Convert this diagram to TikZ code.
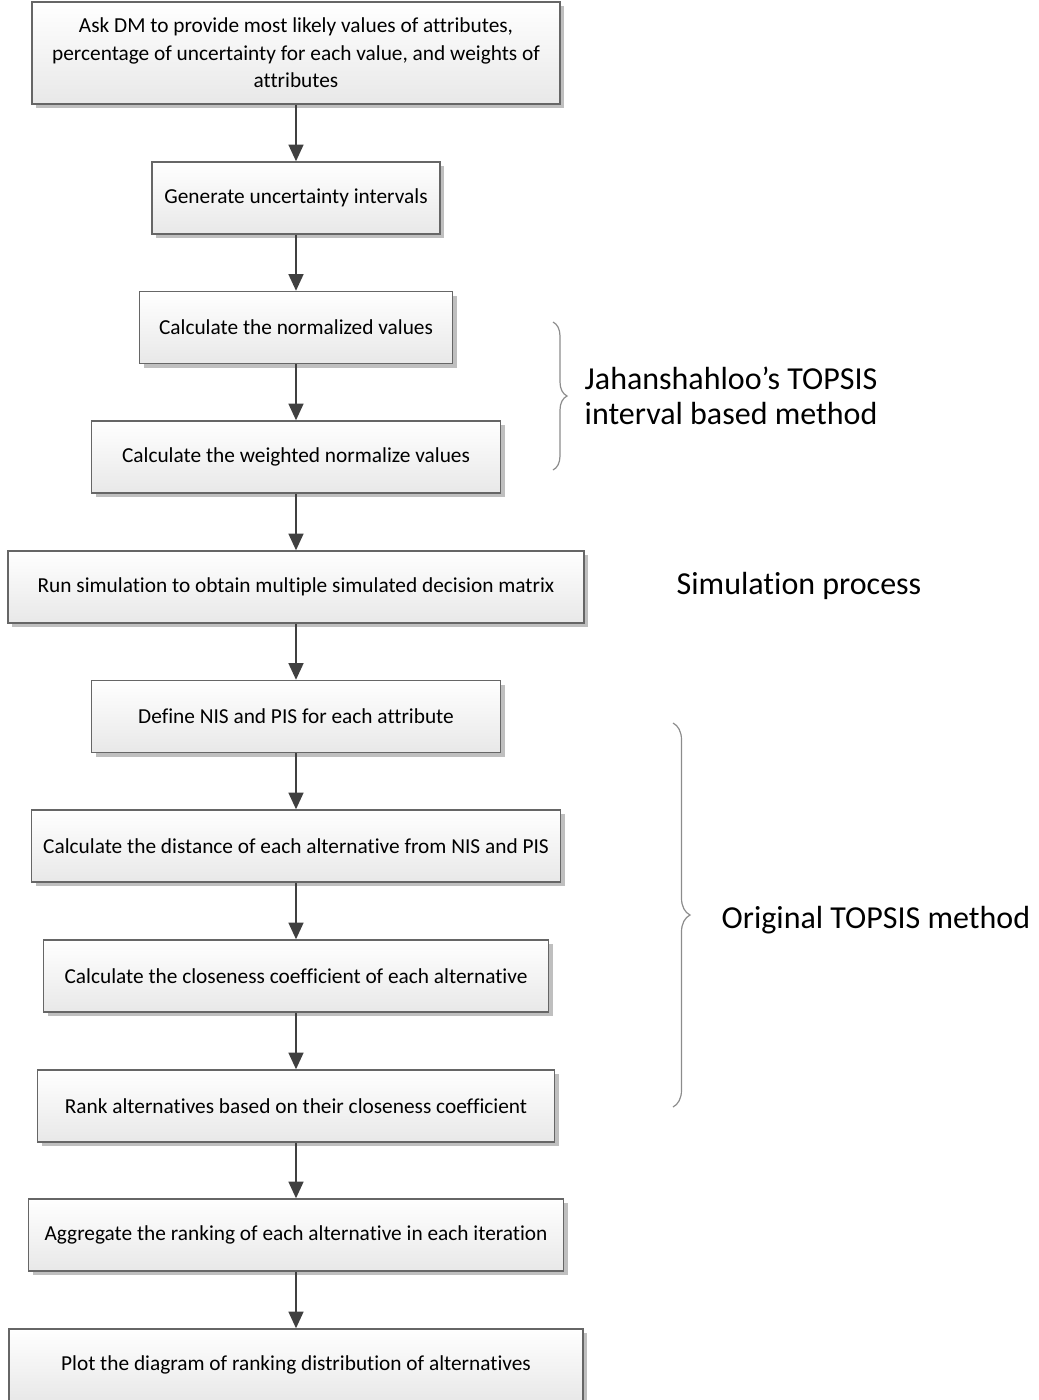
\documentclass[tikz,border=0pt]{standalone}
\usepackage{fontspec}
\setmainfont{Carlito}[Ligatures={NoCommon}]
\usetikzlibrary{arrows.meta,shadows,decorations.pathreplacing}

\newlength{\du}
\setlength{\du}{0.75pt}

\definecolor{boxline}{rgb}{0.400000, 0.400000, 0.400000}
\definecolor{arrowline}{rgb}{0.250000, 0.250000, 0.250000}
\definecolor{braceline}{rgb}{0.550000, 0.550000, 0.550000}

\tikzset{
  stepbox/.style={draw=boxline, line width=1.3\du, top color=white, bottom color=black!9,
    drop shadow={shadow xshift=4\du, shadow yshift=-4\du, fill=black!25, opacity=1},
    minimum height=72\du, inner sep=0pt, align=center,
    font=\fontsize{16}{20.6}\selectfont},
  flowline/.style={draw=arrowline, line width=2.4\du, -{Triangle[length=12.5pt,width=11pt]}},
  bracket/.style={draw=braceline, line width=1.2\du, decorate,
    decoration={brace, amplitude=14\du}},
  sidelabel/.style={anchor=west, align=left, font=\fontsize{24}{26}\selectfont}
}

\begin{document}
\begin{tikzpicture}
\pgftransformxscale{1.000000}
\pgftransformyscale{-1.000000}
\useasboundingbox (0\du,0\du) rectangle (1039\du,1400\du);
% steps
\node[stepbox, minimum width=528\du, minimum height=102\du] (ask) at (296\du,53\du)
  {Ask DM to provide most likely values of attributes,\\percentage of uncertainty for each value, and weights of\\attributes};
\node[stepbox, minimum width=288\du] (gen) at (296\du,198\du) {Generate uncertainty intervals};
\node[stepbox, minimum width=313\du] (norm) at (296\du,327.5\du) {Calculate the normalized values};
\node[stepbox, minimum width=409\du] (wnorm) at (296\du,457\du) {Calculate the weighted normalize values};
\node[stepbox, minimum width=576\du] (sim) at (296\du,587\du) {Run simulation to obtain multiple simulated decision matrix};
\node[stepbox, minimum width=409\du] (nispis) at (296\du,716.5\du) {Define NIS and PIS for each attribute};
\node[stepbox, minimum width=529\du] (dist) at (296\du,846\du) {Calculate the distance of each alternative from NIS and PIS};
\node[stepbox, minimum width=505\du] (close) at (296\du,976\du) {Calculate the closeness coefficient of each alternative};
\node[stepbox, minimum width=517\du] (rank) at (296\du,1106\du) {Rank alternatives based on their closeness coefficient};
\node[stepbox, minimum width=535\du] (aggr) at (296\du,1235\du) {Aggregate the ranking of each alternative in each iteration};
\node[stepbox, minimum width=574\du] (plot) at (296\du,1365\du) {Plot the diagram of ranking distribution of alternatives};
% arrows
\foreach \a/\b in {ask/gen, gen/norm, norm/wnorm, wnorm/sim, sim/nispis,
                   nispis/dist, dist/close, close/rank, rank/aggr, aggr/plot}
  \draw[flowline] (\a.south) -- (\b.north);
% braces and labels
\coordinate (jtop) at (553\du,322\du);
\coordinate (jbot) at (553\du,470\du);
\draw[bracket] (jtop) -- (jbot);
\coordinate (otop) at (673\du,723\du);
\coordinate (obot) at (673\du,1107\du);
\draw[bracket, decoration={amplitude=17\du}] (otop) -- (obot);
\node[sidelabel] (jahan) at (580\du,396\du) {Jahanshahloo’s TOPSIS\\interval based method};
\node[sidelabel] (simlab) at (672\du,586\du) {Simulation process};
\node[sidelabel] (origlab) at (717\du,920\du) {Original TOPSIS method};
\end{tikzpicture}
\end{document}
